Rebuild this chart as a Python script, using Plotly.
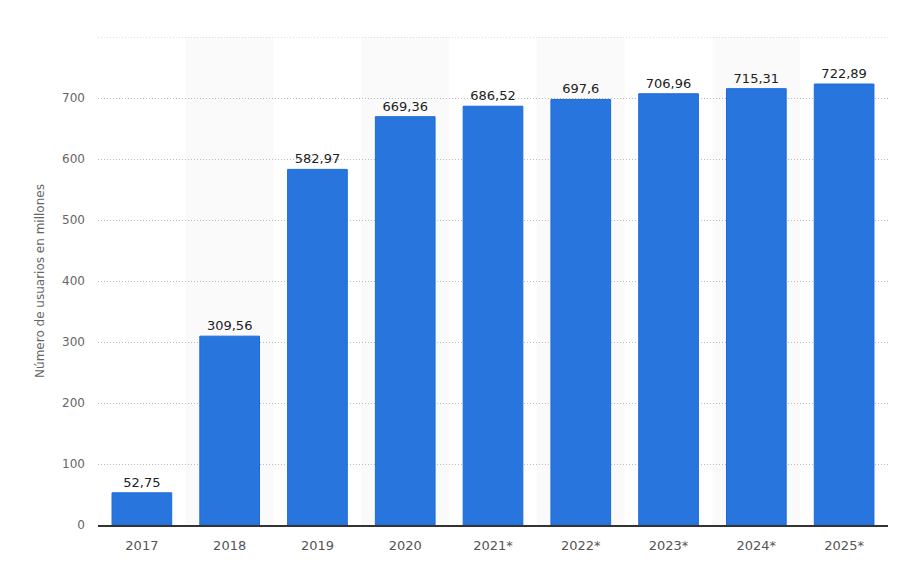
import plotly.graph_objects as go

years = ["2017", "2018", "2019", "2020", "2021*", "2022*", "2023*", "2024*", "2025*"]
users = [52.75, 309.56, 582.97, 669.36, 686.52, 697.6, 706.96, 715.31, 722.89]
y_ticks = [0, 100, 200, 300, 400, 500, 600, 700, 800]
y_tick_text = ["0", "100", "200", "300", "400", "500", "600", "700", ""]
y_max = 800

labels = [("%g" % v).replace(".", ",") for v in users]

fig = go.Figure()
fig.add_trace(go.Bar(
    x=years, y=users, text=labels, textposition="outside",
    textfont=dict(family="DejaVu Sans", size=13, color="#222222"),
    marker=dict(color="#2876dd", line=dict(color="#1f6ad8", width=1)),
    width=0.68, cliponaxis=False, hoverinfo="skip",
))

shapes = []
for i in range(1, len(years), 2):
    shapes.append(dict(type="rect", xref="x", yref="paper", x0=i - 0.5, x1=i + 0.5,
                       y0=0, y1=1, fillcolor="#fafafa", line=dict(width=0), layer="below"))
shapes.append(dict(type="line", xref="paper", yref="y", x0=0, x1=1, y0=y_max, y1=y_max,
                   line=dict(color="#bbbbbb", width=1, dash="1px,2px"), layer="below"))

fig.update_layout(
    width=900, height=565,
    margin=dict(l=98, r=12, t=37, b=40),
    paper_bgcolor="white", plot_bgcolor="white",
    shapes=shapes, showlegend=False,
    font=dict(family="DejaVu Sans", color="#666666"),
)
fig.update_xaxes(
    type="category", showgrid=False, showline=True, linecolor="#333333", linewidth=1.5,
    tickfont=dict(size=13, color="#555555"), ticks="", ticklen=0, ticklabelstandoff=8,
)
fig.update_yaxes(
    range=[0, y_max], tickvals=y_ticks, ticktext=y_tick_text, showgrid=True,
    gridcolor="#bbbbbb", griddash="1px,2px",
    gridwidth=1, zeroline=False, tickfont=dict(size=12, color="#666666"), ticks="",
    ticklabelstandoff=12,
    title=dict(text="Número de usuarios en millones", font=dict(size=12, color="#666666"), standoff=14),
)
fig.write_html("out.html")
